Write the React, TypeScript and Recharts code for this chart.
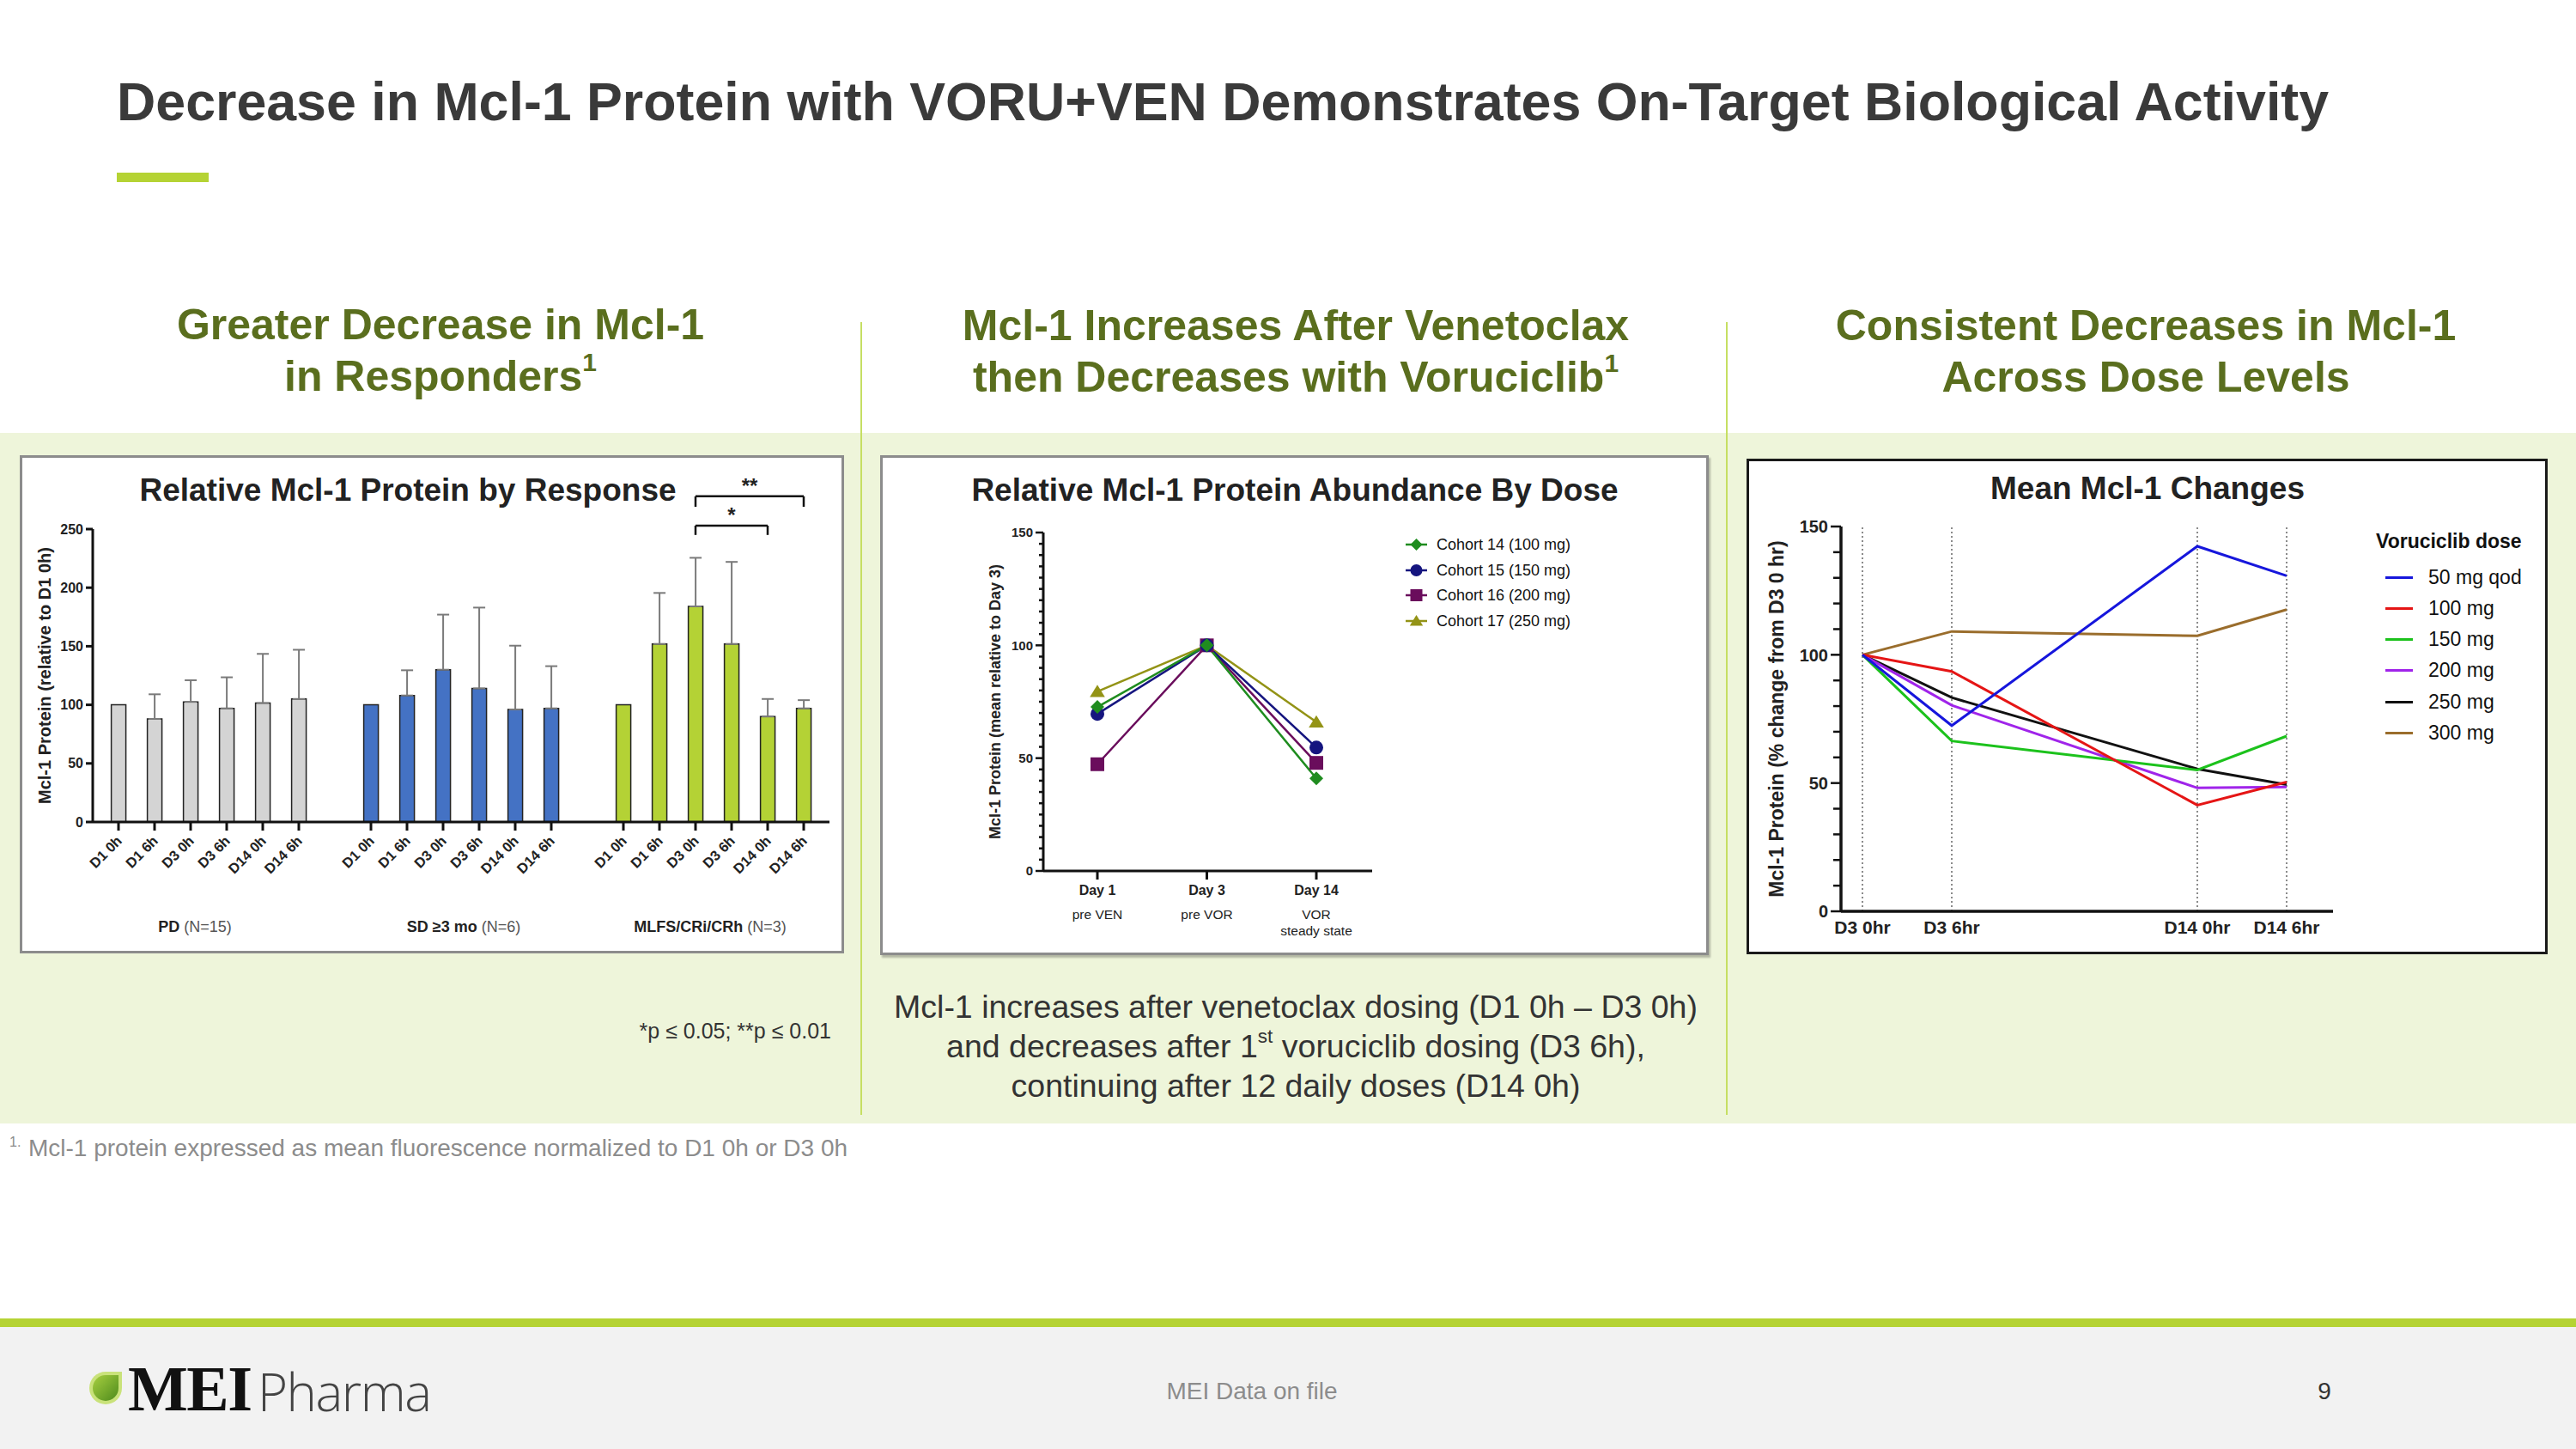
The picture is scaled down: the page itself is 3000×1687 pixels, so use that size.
import React from "react";
import {
  BarChart,
  Bar,
  Cell,
  ErrorBar,
  XAxis,
  YAxis,
  ReferenceLine,
  LineChart,
  Line,
} from "recharts";

const FONT = "'Liberation Sans', Arial, Helvetica, sans-serif";
const INK = "#111111";
const OLIVE = "#5a6e1e";
const LIME = "#b5d334";

// ---- left panel: relative Mcl-1 by response (mean + upper error)
const timepoints = ["D1 0h", "D1 6h", "D3 0h", "D3 6h", "D14 0h", "D14 6h"];
const responseGroups = ["PD", "SD ≥3 mo", "MLFS/CRi/CRh"];
const responseN = ["(N=15)", "(N=6)", "(N=3)"];
const pdMean = [100, 88, 102.5, 97, 101.5, 105];
const pdErr = [null, 21, 18.5, 26.5, 42, 42];
const sdMean = [100, 108, 130, 114, 96, 97];
const sdErr = [null, 21.5, 47, 69, 54.5, 36];
const mlfsMean = [100, 152, 184, 152, 90, 97];
const mlfsErr = [null, 43.5, 41.5, 70, 15, 7];
const responseColors = ["#d4d4d4", "#4472c4", "#b4d235"];
const responseTicks = [0, 50, 100, 150, 200, 250];

// significance brackets (MLFS group only)
const sigTests = [
  { from: "D3 0h", to: "D14 6h", mark: "**", level: 278, drop: 9 },
  { from: "D3 0h", to: "D14 0h", mark: "*", level: 253, drop: 8 },
];

// ---- middle panel: abundance by dose
const dayLabels = ["Day 1", "Day 3", "Day 14"];
const daySubLabels = [["pre VEN"], ["pre VOR"], ["VOR", "steady state"]];
const cohortNames = ["Cohort 14 (100 mg)", "Cohort 15 (150 mg)", "Cohort 16 (200 mg)", "Cohort 17 (250 mg)"];
const cohort14 = [72.7, 100, 41];
const cohort15 = [69.6, 100, 54.7];
const cohort16 = [47.3, 100, 47.9];
const cohort17 = [79.5, 100, 66];
const cohortColors = ["#1f8c1f", "#15157f", "#6a0d5c", "#939316"];
const cohortShapes = ["diamond", "circle", "square", "triangle"];
const cohortMajorTicks = [0, 50, 100, 150];

// ---- right panel: mean changes by voruciclib dose
const timeLabels = ["D3 0hr", "D3 6hr", "D14 0hr", "D14 6hr"];
const spacerSlots = [3, 10, 3];
const doseNames = ["50 mg qod", "100 mg", "150 mg", "200 mg", "250 mg", "300 mg"];
const dose50qod = [100, 72.4, 142.3, 130.8];
const dose100 = [100, 93.5, 41.4, 50.4];
const dose150 = [100, 66.4, 55.1, 68.3];
const dose200 = [100, 80.3, 48.1, 48.5];
const dose250 = [100, 83.3, 55.5, 49.4];
const dose300 = [100, 109.1, 107.4, 117.6];
const doseColors = ["#1616dc", "#e51515", "#1cc21c", "#a024ea", "#111111", "#9a6d2c"];
const doseMajorTicks = [0, 50, 100, 150];

// ---------- tables for recharts
const groupMeans = [pdMean, sdMean, mlfsMean];
const groupErrs = [pdErr, sdErr, mlfsErr];
const barRows: any[] = [];
responseGroups.forEach((g, gi) => {
  if (gi > 0) barRows.push({ key: `gap${gi}`, group: -1, value: null, err: null });
  timepoints.forEach((t, ti) => {
    const e = groupErrs[gi][ti];
    barRows.push({ key: `${g}|${t}`, group: gi, value: groupMeans[gi][ti], err: e == null ? null : [0, e] });
  });
});
const mlfsKey = (t: string) => `${responseGroups[2]}|${t}`;

const cohortSeries = [cohort14, cohort15, cohort16, cohort17];
const cohortRows = dayLabels.map((d, i) => {
  const row: any = { day: d };
  cohortSeries.forEach((s, si) => (row[`c${si}`] = s[i]));
  return row;
});

const doseSeries = [dose50qod, dose100, dose150, dose200, dose250, dose300];
const doseRows: any[] = [];
timeLabels.forEach((t, ti) => {
  const row: any = { slot: t };
  doseSeries.forEach((s, si) => (row[`d${si}`] = s[ti]));
  doseRows.push(row);
  if (ti < spacerSlots.length) {
    for (let k = 0; k < spacerSlots[ti]; k++) doseRows.push({ slot: `gap-${ti}-${k}` });
  }
});

const rangeTicks = (max: number, step: number) => {
  const out: number[] = [];
  for (let v = 0; v <= max; v += step) out.push(v);
  return out;
};

// ---------- small helpers
function Txt(props: {
  x: number;
  y: number;
  size: number;
  children: React.ReactNode;
  weight?: number | string;
  color?: string;
  anchor?: "start" | "middle" | "end";
  family?: string;
  style?: React.CSSProperties;
}) {
  const { x, y, size, children, weight = 400, color = "#333", anchor = "start", family = FONT, style } = props;
  const s: React.CSSProperties = {
    position: "absolute",
    top: y - size * 0.8465,
    fontSize: size,
    lineHeight: `${size}px`,
    fontWeight: weight as any,
    color,
    fontFamily: family,
    whiteSpace: "nowrap",
    ...style,
  };
  if (anchor === "start") s.left = x;
  else if (anchor === "end") s.right = 3000 - x;
  else {
    s.left = x;
    s.transform = "translateX(-50%)";
  }
  return <div style={s}>{children}</div>;
}

const Sup = ({ children }: { children: React.ReactNode }) => (
  <span style={{ fontSize: "0.6em", position: "relative", top: "-0.75em" }}>{children}</span>
);

function Marker({ shape, cx, cy, color, s = 8 }: { shape: string; cx: number; cy: number; color: string; s?: number }) {
  if (shape === "diamond")
    return <polygon points={`${cx},${cy - s} ${cx + s},${cy} ${cx},${cy + s} ${cx - s},${cy}`} fill={color} />;
  if (shape === "circle") return <circle cx={cx} cy={cy} r={s} fill={color} />;
  if (shape === "square") return <rect x={cx - s} y={cy - s} width={2 * s} height={2 * s} fill={color} />;
  return (
    <polygon points={`${cx},${cy - s} ${cx + s * 1.1},${cy + s * 0.8} ${cx - s * 1.1},${cy + s * 0.8}`} fill={color} />
  );
}

const BarTick = (props: any) => {
  const { x, y, payload } = props;
  const k: string = payload.value;
  if (!k.includes("|")) return <g />;
  const label = k.split("|")[1];
  return (
    <g>
      <line x1={x} x2={x} y1={y} y2={y + 10} stroke={INK} strokeWidth={3} />
      <text
        x={x + 5}
        y={y + 23}
        textAnchor="end"
        transform={`rotate(-45, ${x + 5}, ${y + 23})`}
        fontSize={16.5}
        fontWeight="bold"
        fill="#222"
        fontFamily={FONT}
      >
        {label}
      </text>
    </g>
  );
};

const DayTick = (props: any) => {
  const { x, y, payload } = props;
  const i = dayLabels.indexOf(payload.value);
  return (
    <g fontFamily={FONT} fill="#222">
      <line x1={x} x2={x} y1={y} y2={y + 10} stroke={INK} strokeWidth={3} />
      <text x={x} y={y + 28} textAnchor="middle" fontSize={16} fontWeight="bold">
        {payload.value}
      </text>
      {(daySubLabels[i] || []).map((s, k) => (
        <text key={k} x={x} y={y + 56 + k * 19} textAnchor="middle" fontSize={15.5}>
          {s}
        </text>
      ))}
    </g>
  );
};

const SlotTick = (props: any) => {
  const { x, y, payload } = props;
  if (!timeLabels.includes(payload.value)) return <g />;
  return (
    <text x={x} y={y + 26} textAnchor="middle" fontSize={21} fontWeight="bold" fill="#222" fontFamily={FONT}>
      {payload.value}
    </text>
  );
};

const makeYTick = (majors: number[], majorLen: number, minorLen: number, fontSize: number) => (props: any) => {
  const { x, y, payload } = props;
  const v = payload.value;
  const isMajor = majors.includes(v);
  const len = isMajor ? majorLen : minorLen;
  return (
    <g>
      <line x1={x} x2={x - len} y1={y} y2={y} stroke={INK} strokeWidth={2.5} />
      {isMajor && (
        <text x={x - len - 3} y={y} dy="0.36em" textAnchor="end" fontSize={fontSize} fontWeight="bold" fill="#222" fontFamily={FONT}>
          {v}
        </text>
      )}
    </g>
  );
};
const CohortYTick = makeYTick(cohortMajorTicks, 9, 5, 15);
const DoseYTick = makeYTick(doseMajorTicks, 12, 9, 20);

// ---------- charts
function ResponseChart() {
  const brackets: React.ReactNode[] = [];
  sigTests.forEach((b, i) => {
    const a = mlfsKey(b.from);
    const z = mlfsKey(b.to);
    const common = { stroke: INK, strokeWidth: 2.5, ifOverflow: "visible" as const };
    brackets.push(
      <ReferenceLine
        key={`h${i}`}
        segment={[{ x: a, y: b.level }, { x: z, y: b.level }]}
        {...common}
        label={{ value: b.mark, position: "top", offset: 4, fontSize: 24, fontWeight: "bold", fill: "#222", fontFamily: FONT }}
      />,
      <ReferenceLine key={`l${i}`} segment={[{ x: a, y: b.level }, { x: a, y: b.level - b.drop }]} {...common} />,
      <ReferenceLine key={`r${i}`} segment={[{ x: z, y: b.level }, { x: z, y: b.level - b.drop }]} {...common} />
    );
  });
  return (
    <BarChart width={960} height={580} data={barRows} margin={{ top: 86, right: 17, bottom: 93, left: 25 }} barCategoryGap="30%">
      <XAxis
        dataKey="key"
        interval={0}
        tick={<BarTick />}
        tickLine={false}
        tickSize={0}
        tickMargin={0}
        axisLine={{ stroke: INK, strokeWidth: 3 }}
        padding={{ left: 9, right: 9 }}
        height={60}
      />
      <YAxis
        domain={[0, 250]}
        ticks={responseTicks}
        interval={0}
        width={60}
        tickSize={8}
        tickMargin={3}
        axisLine={{ stroke: INK, strokeWidth: 3 }}
        tickLine={{ stroke: INK, strokeWidth: 3 }}
        tick={{ fontSize: 16, fontWeight: "bold", fill: "#222", fontFamily: FONT }}
        label={{
          value: "Mcl-1 Protein (relative to D1 0h)",
          angle: -90,
          position: "center",
          dx: -26,
          fontSize: 20,
          fontWeight: "bold",
          fill: "#222",
          fontFamily: FONT,
        }}
      />
      <Bar dataKey="value" stroke="#222" strokeWidth={1.5} isAnimationActive={false}>
        {barRows.map((r, i) => (
          <Cell key={i} fill={r.group >= 0 ? responseColors[r.group] : "none"} />
        ))}
        <ErrorBar dataKey="err" direction="y" width={7} stroke="#7a7a7a" strokeWidth={2} isAnimationActive={false} />
      </Bar>
      {brackets}
    </BarChart>
  );
}

function CohortChart() {
  const order = [3, 2, 1, 0];
  return (
    <LineChart width={965} height={582} data={cohortRows} margin={{ top: 90, right: 392, bottom: 28, left: 120 }}>
      <XAxis
        dataKey="day"
        interval={0}
        tick={<DayTick />}
        tickLine={false}
        tickSize={0}
        tickMargin={0}
        axisLine={{ stroke: INK, strokeWidth: 3 }}
        padding={{ left: 63, right: 65 }}
        height={70}
      />
      <YAxis
        domain={[0, 150]}
        ticks={rangeTicks(150, 5)}
        interval={0}
        width={70}
        tick={<CohortYTick />}
        tickLine={false}
        tickSize={0}
        tickMargin={0}
        axisLine={{ stroke: INK, strokeWidth: 3 }}
        label={{
          value: "Mcl-1 Protein (mean relative to Day 3)",
          angle: -90,
          position: "center",
          dx: -21,
          fontSize: 18,
          fontWeight: "bold",
          fill: "#222",
          fontFamily: FONT,
        }}
      />
      {order.map((si) => (
        <Line
          key={si}
          dataKey={`c${si}`}
          stroke={cohortColors[si]}
          strokeWidth={2.5}
          isAnimationActive={false}
          activeDot={false}
          dot={(p: any) => (
            <Marker key={`m${si}-${p.index}`} shape={cohortShapes[si]} cx={p.cx} cy={p.cy} color={cohortColors[si]} />
          )}
        />
      ))}
    </LineChart>
  );
}

function DoseChart() {
  const order = [5, 4, 3, 2, 1, 0];
  return (
    <LineChart width={933} height={577} data={doseRows} margin={{ top: 79, right: 250, bottom: 10, left: 50 }}>
      <XAxis
        dataKey="slot"
        interval={0}
        tick={<SlotTick />}
        tickLine={false}
        tickSize={0}
        tickMargin={0}
        axisLine={{ stroke: INK, strokeWidth: 3.5 }}
        padding={{ left: 25, right: 54 }}
        height={40}
      />
      <YAxis
        domain={[0, 150]}
        ticks={rangeTicks(150, 10)}
        interval={0}
        width={60}
        tick={<DoseYTick />}
        tickLine={false}
        tickSize={0}
        tickMargin={0}
        axisLine={{ stroke: INK, strokeWidth: 3.5 }}
        label={{
          value: "Mcl-1 Protein (% change from D3 0 hr)",
          angle: -90,
          position: "center",
          dx: -45,
          fontSize: 23,
          fontWeight: "bold",
          fill: "#222",
          fontFamily: FONT,
        }}
      />
      {timeLabels.map((t) => (
        <ReferenceLine key={t} x={t} stroke="#666" strokeWidth={1.5} strokeDasharray="2 3" />
      ))}
      {order.map((si) => (
        <Line
          key={si}
          dataKey={`d${si}`}
          stroke={doseColors[si]}
          strokeWidth={3}
          connectNulls
          dot={false}
          activeDot={false}
          isAnimationActive={false}
        />
      ))}
    </LineChart>
  );
}

function Leaf() {
  return (
    <svg width={42} height={42} style={{ position: "absolute", left: 102, top: 1595 }}>
      <defs>
        <linearGradient id="leafG" x1="0" y1="0" x2="1" y2="1">
          <stop offset="0%" stopColor="#a8d040" />
          <stop offset="100%" stopColor="#4d8a1c" />
        </linearGradient>
      </defs>
      <path d="M21 2 L40 2 L40 21 A19 19 0 1 1 21 2 Z" fill="#c9e27a" />
      <path d="M21 6 L36 6 L36 21 A15 15 0 1 1 21 6 Z" fill="url(#leafG)" />
    </svg>
  );
}

export default function App() {
  const box = (left: number, top: number, w: number, h: number, border: string, extra?: React.CSSProperties) => (
    <div
      style={{ position: "absolute", left, top, width: w, height: h, border, boxSizing: "border-box", background: "#fff", ...extra }}
    />
  );
  const groupCenters = [227, 540, 827];
  return (
    <div
      style={{
        position: "absolute",
        left: 0,
        top: 0,
        width: 3000,
        height: 1687,
        background: "#fff",
        overflow: "hidden",
        fontFamily: FONT,
      }}
    >
      {/* header */}
      <Txt x={136} y={140} size={62.7} weight={700} color="#3a3a3a">
        Decrease in Mcl-1 Protein with VORU+VEN Demonstrates On-Target Biological Activity
      </Txt>
      <div style={{ position: "absolute", left: 136, top: 201, width: 107, height: 11, background: LIME }} />

      {/* band + separators */}
      <div style={{ position: "absolute", left: 0, top: 504, width: 3000, height: 804, background: "#eef5da" }} />
      <div style={{ position: "absolute", left: 1002, top: 375, width: 2, height: 923, background: "#c6df63" }} />
      <div style={{ position: "absolute", left: 2010, top: 375, width: 2, height: 923, background: "#c6df63" }} />

      {/* column headings */}
      <Txt x={513} y={395} size={50} weight={700} color={OLIVE} anchor="middle">
        Greater Decrease in Mcl-1
      </Txt>
      <Txt x={513} y={455} size={50} weight={700} color={OLIVE} anchor="middle">
        in Responders<Sup>1</Sup>
      </Txt>
      <Txt x={1509} y={396} size={50} weight={700} color={OLIVE} anchor="middle">
        Mcl-1 Increases After Venetoclax
      </Txt>
      <Txt x={1509} y={456} size={50} weight={700} color={OLIVE} anchor="middle">
        then Decreases with Voruciclib<Sup>1</Sup>
      </Txt>
      <Txt x={2499} y={396} size={50} weight={700} color={OLIVE} anchor="middle">
        Consistent Decreases in Mcl-1
      </Txt>
      <Txt x={2499} y={456} size={50} weight={700} color={OLIVE} anchor="middle">
        Across Dose Levels
      </Txt>

      {/* panel 1 */}
      {box(23, 530, 960, 580, "3px solid #8c8c8c")}
      <div style={{ position: "absolute", left: 23, top: 530 }}>
        <ResponseChart />
      </div>
      <Txt x={475} y={583} size={37} weight={700} color="#222" anchor="middle">
        Relative Mcl-1 Protein by Response
      </Txt>
      {responseGroups.map((g, i) => (
        <Txt key={g} x={groupCenters[i]} y={1085} size={18} weight={700} color="#222" anchor="middle">
          {g} <span style={{ fontWeight: 400, color: "#555" }}>{responseN[i]}</span>
        </Txt>
      ))}
      <Txt x={968} y={1209} size={25} color="#333" anchor="end">
        *p ≤ 0.05; **p ≤ 0.01
      </Txt>

      {/* panel 2 */}
      {box(1025, 530, 965, 582, "3px solid #8c8c8c", { boxShadow: "2px 3px 2px rgba(0,0,0,0.25)" })}
      <div style={{ position: "absolute", left: 1025, top: 530 }}>
        <CohortChart />
      </div>
      <Txt x={1508} y={583} size={37} weight={700} color="#222" anchor="middle">
        Relative Mcl-1 Protein Abundance By Dose
      </Txt>
      {cohortNames.map((n, i) => {
        const cy = 634 + i * 29.6;
        return (
          <React.Fragment key={n}>
            <svg width={30} height={24} style={{ position: "absolute", left: 1635, top: cy - 12 }}>
              <line x1={2} x2={27} y1={12} y2={12} stroke={cohortColors[i]} strokeWidth={2.5} />
              <Marker shape={cohortShapes[i]} cx={14.5} cy={12} color={cohortColors[i]} s={7} />
            </svg>
            <Txt x={1673} y={cy + 6.5} size={18} color="#111">
              {n}
            </Txt>
          </React.Fragment>
        );
      })}
      <Txt x={1509} y={1186} size={37.5} color="#333" anchor="middle">
        Mcl-1 increases after venetoclax dosing (D1 0h – D3 0h)
      </Txt>
      <Txt x={1509} y={1232} size={37.5} color="#333" anchor="middle">
        and decreases after 1<Sup>st</Sup> voruciclib dosing (D3 6h),
      </Txt>
      <Txt x={1509} y={1278} size={37.5} color="#333" anchor="middle">
        continuing after 12 daily doses (D14 0h)
      </Txt>

      {/* panel 3 */}
      {box(2034, 534, 933, 577, "3px solid #1a1a1a")}
      <div style={{ position: "absolute", left: 2034, top: 534 }}>
        <DoseChart />
      </div>
      <Txt x={2501} y={581} size={37} weight={700} color="#222" anchor="middle">
        Mean Mcl-1 Changes
      </Txt>
      <Txt x={2767} y={638} size={23} weight={700} color="#111">
        Voruciclib dose
      </Txt>
      {doseNames.map((n, i) => {
        const cy = 672 + i * 36.3;
        return (
          <React.Fragment key={n}>
            <div style={{ position: "absolute", left: 2778, top: cy - 1.5, width: 32, height: 3, background: doseColors[i] }} />
            <Txt x={2828} y={cy + 8} size={23} color="#111">
              {n}
            </Txt>
          </React.Fragment>
        );
      })}

      {/* footnote */}
      <Txt x={11} y={1336} size={16} color="#8c8c8c">
        1.
      </Txt>
      <Txt x={33} y={1347} size={28} color="#8c8c8c">
        Mcl-1 protein expressed as mean fluorescence normalized to D1 0h or D3 0h
      </Txt>

      {/* footer */}
      <div style={{ position: "absolute", left: 0, top: 1535, width: 3000, height: 10, background: LIME }} />
      <div style={{ position: "absolute", left: 0, top: 1545, width: 3000, height: 142, background: "#f2f2f2" }} />
      <Leaf />
      <Txt x={149} y={1643} size={74} weight={700} color="#111" family="'Liberation Serif', 'Times New Roman', serif" style={{ letterSpacing: -1.5 }}>
        MEI
      </Txt>
      <Txt x={300} y={1641} size={60} weight={300} color="#444" family="'Open Sans', Lato, 'Liberation Sans', sans-serif" style={{ letterSpacing: -1.5 }}>
        Pharma
      </Txt>
      <Txt x={1458} y={1630} size={28} color="#8c8c8c" anchor="middle">
        MEI Data on file
      </Txt>
      <Txt x={2707} y={1630} size={28} color="#333" anchor="middle">
        9
      </Txt>
    </div>
  );
}
